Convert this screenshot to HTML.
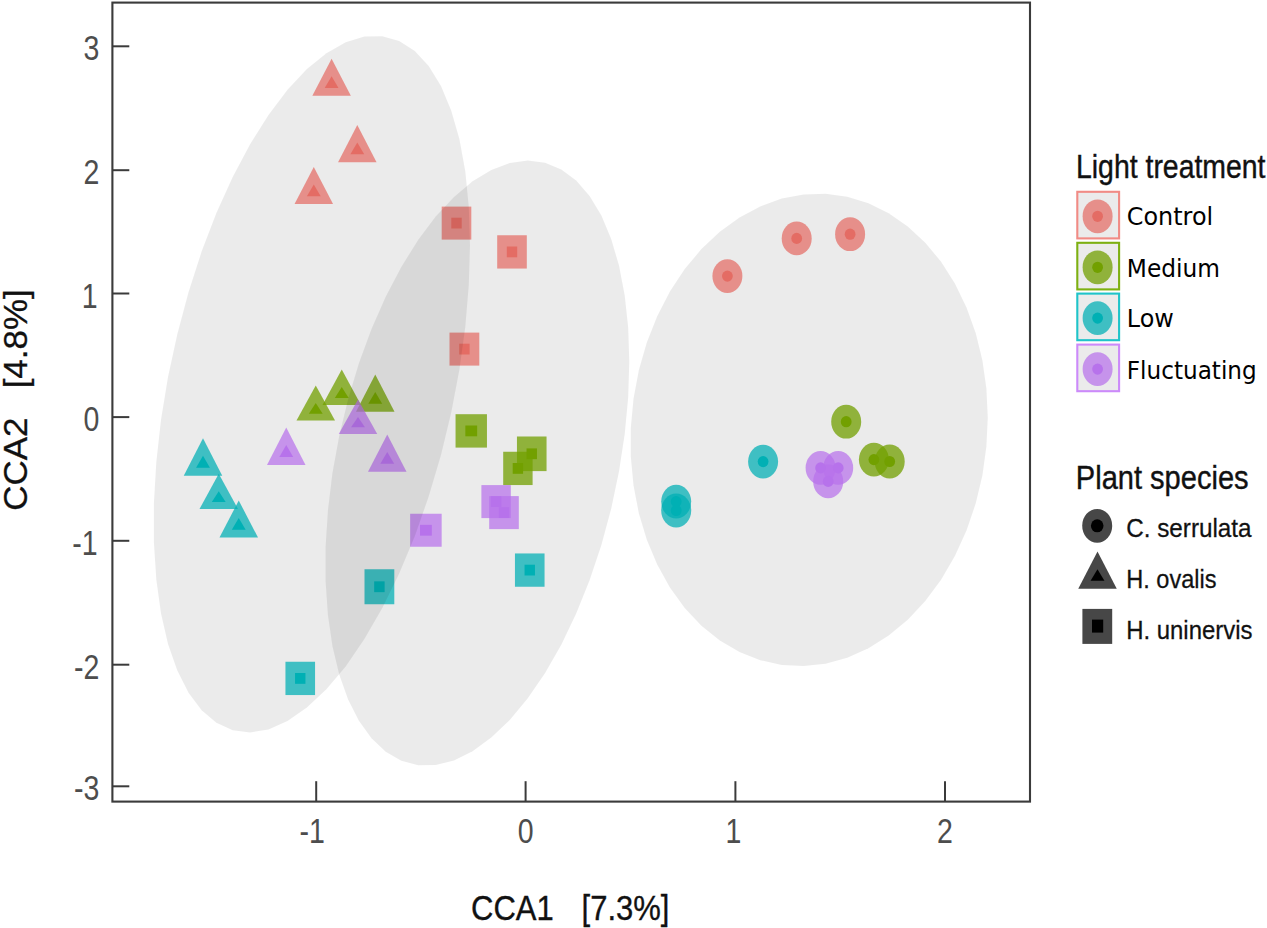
<!DOCTYPE html>
<html><head><meta charset="utf-8"><title>CCA ordination</title>
<style>html,body{margin:0;padding:0;background:#fff}svg{display:block}text{font-family:"Liberation Sans",sans-serif}.dj{font-family:"DejaVu Sans",sans-serif}</style></head><body>
<svg width="1267" height="928" viewBox="0 0 1267 928">
<rect width="1267" height="928" fill="#fff"/>
<g>
<ellipse cx="727.40" cy="276.10" rx="15.00" ry="16.90" fill="rgb(248,118,109)" fill-opacity="0.72"/>
<ellipse cx="796.70" cy="238.40" rx="15.00" ry="16.90" fill="rgb(248,118,109)" fill-opacity="0.72"/>
<ellipse cx="850.10" cy="234.20" rx="15.00" ry="16.90" fill="rgb(248,118,109)" fill-opacity="0.72"/>
<polygon points="331.60,58.70 350.85,95.80 312.35,95.80" fill="rgb(248,118,109)" fill-opacity="0.72"/>
<polygon points="357.30,124.90 376.55,162.20 338.05,162.20" fill="rgb(248,118,109)" fill-opacity="0.72"/>
<polygon points="313.80,166.90 333.05,204.10 294.55,204.10" fill="rgb(248,118,109)" fill-opacity="0.72"/>
<rect x="441.70" y="206.60" width="29.60" height="33.00" fill="rgb(248,118,109)" fill-opacity="0.72"/>
<rect x="497.20" y="235.25" width="29.60" height="33.30" fill="rgb(248,118,109)" fill-opacity="0.72"/>
<rect x="449.50" y="332.60" width="29.80" height="33.00" fill="rgb(248,118,109)" fill-opacity="0.72"/>
<ellipse cx="846.20" cy="421.70" rx="15.00" ry="16.90" fill="rgb(124,174,0)" fill-opacity="0.75"/>
<ellipse cx="873.90" cy="459.60" rx="15.00" ry="16.90" fill="rgb(124,174,0)" fill-opacity="0.75"/>
<ellipse cx="889.70" cy="461.50" rx="15.00" ry="16.90" fill="rgb(124,174,0)" fill-opacity="0.75"/>
<polygon points="315.75,385.50 335.00,420.60 296.50,420.60" fill="rgb(124,174,0)" fill-opacity="0.75"/>
<polygon points="341.75,369.50 361.00,405.10 322.50,405.10" fill="rgb(124,174,0)" fill-opacity="0.75"/>
<polygon points="375.25,374.50 394.50,411.75 356.00,411.75" fill="rgb(124,174,0)" fill-opacity="0.75"/>
<rect x="455.55" y="414.20" width="31.40" height="33.40" fill="rgb(124,174,0)" fill-opacity="0.75"/>
<rect x="516.95" y="436.50" width="29.60" height="34.60" fill="rgb(124,174,0)" fill-opacity="0.75"/>
<rect x="503.20" y="451.75" width="29.40" height="33.30" fill="rgb(124,174,0)" fill-opacity="0.75"/>
<ellipse cx="763.10" cy="461.60" rx="15.00" ry="16.90" fill="rgb(0,191,196)" fill-opacity="0.73"/>
<ellipse cx="676.20" cy="501.60" rx="15.00" ry="16.90" fill="rgb(0,191,196)" fill-opacity="0.73"/>
<ellipse cx="676.20" cy="510.50" rx="15.00" ry="16.90" fill="rgb(0,191,196)" fill-opacity="0.73"/>
<polygon points="203.00,438.25 222.25,475.75 183.75,475.75" fill="rgb(0,191,196)" fill-opacity="0.73"/>
<polygon points="218.75,473.75 238.00,509.10 199.50,509.10" fill="rgb(0,191,196)" fill-opacity="0.73"/>
<polygon points="238.75,500.50 258.00,537.50 219.50,537.50" fill="rgb(0,191,196)" fill-opacity="0.73"/>
<rect x="364.50" y="569.25" width="29.80" height="35.00" fill="rgb(0,191,196)" fill-opacity="0.73"/>
<rect x="514.95" y="553.45" width="29.60" height="33.30" fill="rgb(0,191,196)" fill-opacity="0.73"/>
<rect x="285.45" y="661.75" width="29.60" height="33.30" fill="rgb(0,191,196)" fill-opacity="0.73"/>
<ellipse cx="820.60" cy="467.90" rx="15.00" ry="16.90" fill="rgb(199,124,255)" fill-opacity="0.72"/>
<ellipse cx="838.20" cy="467.90" rx="15.00" ry="16.90" fill="rgb(199,124,255)" fill-opacity="0.72"/>
<ellipse cx="828.20" cy="481.40" rx="15.00" ry="16.90" fill="rgb(199,124,255)" fill-opacity="0.72"/>
<polygon points="286.25,427.50 305.50,465.00 267.00,465.00" fill="rgb(199,124,255)" fill-opacity="0.72"/>
<polygon points="358.00,399.50 377.25,433.90 338.75,433.90" fill="rgb(199,124,255)" fill-opacity="0.72"/>
<polygon points="387.25,434.50 406.50,471.75 368.00,471.75" fill="rgb(199,124,255)" fill-opacity="0.72"/>
<rect x="481.40" y="485.10" width="29.40" height="33.00" fill="rgb(199,124,255)" fill-opacity="0.72"/>
<rect x="489.20" y="496.10" width="29.60" height="33.00" fill="rgb(199,124,255)" fill-opacity="0.72"/>
<rect x="410.15" y="513.75" width="31.50" height="33.00" fill="rgb(199,124,255)" fill-opacity="0.72"/>
</g><g>
<ellipse cx="727.40" cy="276.10" rx="5.40" ry="5.62" fill="rgb(248,118,109)" fill-opacity="1.00"/>
<ellipse cx="796.70" cy="238.40" rx="5.40" ry="5.62" fill="rgb(248,118,109)" fill-opacity="1.00"/>
<ellipse cx="850.10" cy="234.20" rx="5.40" ry="5.62" fill="rgb(248,118,109)" fill-opacity="1.00"/>
<polygon points="331.60,76.27 338.53,87.91 324.67,87.91" fill="rgb(248,118,109)" fill-opacity="1.00"/>
<polygon points="357.30,142.47 364.23,154.21 350.37,154.21" fill="rgb(248,118,109)" fill-opacity="1.00"/>
<polygon points="313.80,184.47 320.73,196.16 306.87,196.16" fill="rgb(248,118,109)" fill-opacity="1.00"/>
<rect x="451.30" y="217.70" width="10.40" height="10.80" fill="rgb(248,118,109)" fill-opacity="1.00"/>
<rect x="506.80" y="246.50" width="10.40" height="10.80" fill="rgb(248,118,109)" fill-opacity="1.00"/>
<rect x="459.20" y="343.70" width="10.40" height="10.80" fill="rgb(248,118,109)" fill-opacity="1.00"/>
<ellipse cx="846.20" cy="421.70" rx="5.40" ry="5.62" fill="rgb(124,174,0)" fill-opacity="1.00"/>
<ellipse cx="873.90" cy="459.60" rx="5.40" ry="5.62" fill="rgb(124,174,0)" fill-opacity="1.00"/>
<ellipse cx="889.70" cy="461.50" rx="5.40" ry="5.62" fill="rgb(124,174,0)" fill-opacity="1.00"/>
<polygon points="315.75,403.07 322.68,413.71 308.82,413.71" fill="rgb(124,174,0)" fill-opacity="1.00"/>
<polygon points="341.75,387.07 348.68,397.96 334.82,397.96" fill="rgb(124,174,0)" fill-opacity="1.00"/>
<polygon points="375.25,392.07 382.18,403.79 368.32,403.79" fill="rgb(124,174,0)" fill-opacity="1.00"/>
<rect x="465.35" y="425.50" width="11.80" height="10.80" fill="rgb(124,174,0)" fill-opacity="1.00"/>
<rect x="526.55" y="448.40" width="10.40" height="10.80" fill="rgb(124,174,0)" fill-opacity="1.00"/>
<rect x="512.70" y="463.00" width="10.40" height="10.80" fill="rgb(124,174,0)" fill-opacity="1.00"/>
<ellipse cx="763.10" cy="461.60" rx="5.40" ry="5.62" fill="rgb(0,191,196)" fill-opacity="1.00"/>
<ellipse cx="676.20" cy="501.60" rx="5.40" ry="5.62" fill="rgb(0,191,196)" fill-opacity="1.00"/>
<ellipse cx="676.20" cy="510.50" rx="5.40" ry="5.62" fill="rgb(0,191,196)" fill-opacity="1.00"/>
<polygon points="203.00,455.82 209.93,467.66 196.07,467.66" fill="rgb(0,191,196)" fill-opacity="1.00"/>
<polygon points="218.75,491.32 225.68,502.09 211.82,502.09" fill="rgb(0,191,196)" fill-opacity="1.00"/>
<polygon points="238.75,518.07 245.68,529.66 231.82,529.66" fill="rgb(0,191,196)" fill-opacity="1.00"/>
<rect x="374.20" y="581.35" width="10.40" height="10.80" fill="rgb(0,191,196)" fill-opacity="1.00"/>
<rect x="524.55" y="564.70" width="10.40" height="10.80" fill="rgb(0,191,196)" fill-opacity="1.00"/>
<rect x="295.05" y="673.00" width="10.40" height="10.80" fill="rgb(0,191,196)" fill-opacity="1.00"/>
<ellipse cx="820.60" cy="467.90" rx="5.40" ry="5.62" fill="rgb(199,124,255)" fill-opacity="1.00"/>
<ellipse cx="838.20" cy="467.90" rx="5.40" ry="5.62" fill="rgb(199,124,255)" fill-opacity="1.00"/>
<ellipse cx="828.20" cy="481.40" rx="5.40" ry="5.62" fill="rgb(199,124,255)" fill-opacity="1.00"/>
<polygon points="286.25,445.07 293.18,456.91 279.32,456.91" fill="rgb(199,124,255)" fill-opacity="1.00"/>
<polygon points="358.00,417.07 364.93,427.36 351.07,427.36" fill="rgb(199,124,255)" fill-opacity="1.00"/>
<polygon points="387.25,452.07 394.18,463.79 380.32,463.79" fill="rgb(199,124,255)" fill-opacity="1.00"/>
<rect x="490.90" y="496.20" width="10.40" height="10.80" fill="rgb(199,124,255)" fill-opacity="1.00"/>
<rect x="498.80" y="507.20" width="10.40" height="10.80" fill="rgb(199,124,255)" fill-opacity="1.00"/>
<rect x="420.00" y="524.85" width="11.80" height="10.80" fill="rgb(199,124,255)" fill-opacity="1.00"/>
</g>
<g fill="#000" fill-opacity="0.08">
<polygon points="470.0,245.0 468.8,285.3 465.3,327.1 459.4,369.8 451.2,412.7 441.0,455.1 428.7,496.5 414.8,536.2 399.2,573.5 382.3,608.0 364.4,639.1 345.7,666.4 326.4,689.3 306.9,707.6 287.5,721.1 268.5,729.4 250.1,732.5 232.7,730.3 216.4,722.8 201.6,710.2 188.5,692.7 177.3,670.5 168.0,644.0 161.0,613.5 156.3,579.5 153.9,542.6 153.9,503.3 156.3,462.1 161.0,419.8 168.0,377.0 177.3,334.2 188.5,292.2 201.6,251.6 216.4,213.0 232.7,177.0 250.1,144.2 268.5,114.9 287.5,89.8 306.9,69.1 326.4,53.2 345.7,42.3 364.4,36.6 382.3,36.2 399.2,41.0 414.8,51.0 428.7,66.1 441.0,86.0 451.2,110.4 459.4,139.0 465.3,171.3 468.8,206.8"/>
<polygon points="629.3,361.7 628.2,397.5 624.7,434.3 619.0,471.6 611.2,508.7 601.4,545.1 589.6,580.2 576.2,613.6 561.3,644.8 545.1,673.1 527.8,698.3 509.8,719.9 491.3,737.6 472.6,751.2 454.0,760.4 435.7,765.1 418.1,765.2 401.3,760.7 385.7,751.7 371.5,738.3 358.9,720.8 348.1,699.4 339.2,674.4 332.4,646.1 327.9,615.1 325.6,581.8 325.6,546.7 327.9,510.4 332.4,473.3 339.2,436.0 348.1,399.2 358.9,363.3 371.5,329.0 385.7,296.7 401.3,266.9 418.1,240.1 435.7,216.6 454.0,196.9 472.6,181.3 491.3,169.9 509.8,162.9 527.8,160.5 545.1,162.7 561.3,169.4 576.2,180.6 589.6,196.1 601.4,215.6 611.2,238.9 619.0,265.6 624.7,295.2 628.2,327.5"/>
<polygon points="987.8,417.5 986.4,446.6 982.4,475.4 975.7,503.6 966.5,530.6 954.9,556.1 941.1,579.7 925.3,601.0 907.8,619.7 888.7,635.6 868.5,648.3 847.3,657.7 825.6,663.7 803.6,666.1 781.7,665.0 760.2,660.2 739.5,652.0 719.8,640.4 701.4,625.7 684.7,607.9 669.9,587.5 657.2,564.6 646.8,539.8 638.8,513.2 633.5,485.4 630.8,456.8 630.8,427.7 633.5,398.7 638.8,370.2 646.8,342.5 657.2,316.2 669.9,291.6 684.7,269.1 701.4,249.1 719.8,231.8 739.5,217.4 760.2,206.4 781.7,198.6 803.6,194.4 825.6,193.8 847.3,196.8 868.5,203.2 888.7,213.2 907.8,226.4 925.3,242.7 941.1,261.8 954.9,283.5 966.5,307.4 975.7,333.1 982.4,360.3 986.4,388.6"/>
</g>
<rect x="112.4" y="2.6" width="917.6" height="799.0" fill="none" stroke="#3b3b3b" stroke-width="2.1"/>
<g stroke="#3b3b3b" stroke-width="2">
<line x1="112.4" y1="46.3" x2="129.3" y2="46.3"/>
<line x1="112.4" y1="170.2" x2="129.3" y2="170.2"/>
<line x1="112.4" y1="293.5" x2="129.3" y2="293.5"/>
<line x1="112.4" y1="417.1" x2="129.3" y2="417.1"/>
<line x1="112.4" y1="540.8" x2="129.3" y2="540.8"/>
<line x1="112.4" y1="664.7" x2="129.3" y2="664.7"/>
<line x1="112.4" y1="786.3" x2="129.3" y2="786.3"/>
<line x1="316.2" y1="781.2" x2="316.2" y2="801.6"/>
<line x1="525.6" y1="781.2" x2="525.6" y2="801.6"/>
<line x1="735.4" y1="781.2" x2="735.4" y2="801.6"/>
<line x1="945.0" y1="781.2" x2="945.0" y2="801.6"/>
</g>
<text transform="translate(99.3,60.3) scale(1.000,1.200)" font-size="28.5" text-anchor="end" fill="#4d4d4d">3</text>
<text transform="translate(99.3,184.2) scale(1.000,1.200)" font-size="28.5" text-anchor="end" fill="#4d4d4d">2</text>
<text transform="translate(97.6,307.5) scale(1.000,1.200)" font-size="28.5" text-anchor="end" fill="#4d4d4d">1</text>
<text transform="translate(99.3,431.1) scale(1.000,1.200)" font-size="28.5" text-anchor="end" fill="#4d4d4d">0</text>
<text transform="translate(97.6,554.8) scale(1.000,1.200)" font-size="28.5" text-anchor="end" fill="#4d4d4d">-1</text>
<text transform="translate(99.3,678.7) scale(1.000,1.200)" font-size="28.5" text-anchor="end" fill="#4d4d4d">-2</text>
<text transform="translate(99.3,800.3) scale(1.000,1.200)" font-size="28.5" text-anchor="end" fill="#4d4d4d">-3</text>
<text transform="translate(312.2,843.2) scale(1.000,1.200)" font-size="28.5" text-anchor="middle" fill="#4d4d4d">-1</text>
<text transform="translate(525.6,843.2) scale(1.000,1.200)" font-size="28.5" text-anchor="middle" fill="#4d4d4d">0</text>
<text transform="translate(733.4,843.2) scale(1.000,1.200)" font-size="28.5" text-anchor="middle" fill="#4d4d4d">1</text>
<text transform="translate(945.0,843.2) scale(1.000,1.200)" font-size="28.5" text-anchor="middle" fill="#4d4d4d">2</text>
<text transform="translate(471.0,919.6) scale(1.000,1.147)" font-size="31.0" text-anchor="start" fill="#111" stroke="#111" stroke-width="0.30">CCA1</text>
<text transform="translate(581.6,919.6) scale(1.000,1.147)" font-size="31.0" text-anchor="start" fill="#111" stroke="#111" stroke-width="0.30">[7.3%]</text>
<text transform="translate(26.7,400.0) rotate(-90) scale(1.000,0.970)" font-size="35.0" text-anchor="middle" fill="#111" stroke="#111" stroke-width="0.30">CCA2&#160;&#160;&#160;[4.8%]</text>
<text transform="translate(1076.0,177.6) scale(1.000,1.150)" font-size="28.6" text-anchor="start" fill="#111" stroke="#111" stroke-width="0.35" textLength="189.5" lengthAdjust="spacingAndGlyphs">Light treatment</text>
<ellipse cx="1097.60" cy="216.30" rx="15.00" ry="16.90" fill="rgb(248,118,109)" fill-opacity="0.72"/>
<ellipse cx="1097.60" cy="216.30" rx="5.40" ry="5.62" fill="rgb(248,118,109)" fill-opacity="1.00"/>
<rect x="1077.3" y="191.8" width="41.8" height="46.6" fill="#000" fill-opacity="0.08" stroke="#F18B85" stroke-width="2.1"/>
<text transform="translate(1126.8,225.4) scale(1.000,1.055)" font-size="23.9" text-anchor="start" fill="#000" class="dj">Control</text>
<ellipse cx="1097.60" cy="267.30" rx="15.00" ry="16.90" fill="rgb(124,174,0)" fill-opacity="0.75"/>
<ellipse cx="1097.60" cy="267.30" rx="5.40" ry="5.62" fill="rgb(124,174,0)" fill-opacity="1.00"/>
<rect x="1077.3" y="242.8" width="41.8" height="46.6" fill="#000" fill-opacity="0.08" stroke="#7DB012" stroke-width="2.1"/>
<text transform="translate(1126.8,276.9) scale(1.000,1.055)" font-size="23.9" text-anchor="start" fill="#000" class="dj" textLength="93.1" lengthAdjust="spacingAndGlyphs">Medium</text>
<ellipse cx="1097.60" cy="318.10" rx="15.00" ry="16.90" fill="rgb(0,191,196)" fill-opacity="0.73"/>
<ellipse cx="1097.60" cy="318.10" rx="5.40" ry="5.62" fill="rgb(0,191,196)" fill-opacity="1.00"/>
<rect x="1077.3" y="293.6" width="41.8" height="46.6" fill="#000" fill-opacity="0.08" stroke="#1FC4C9" stroke-width="2.1"/>
<text transform="translate(1126.8,326.7) scale(1.000,1.055)" font-size="23.9" text-anchor="start" fill="#000" class="dj">Low</text>
<ellipse cx="1097.60" cy="369.10" rx="15.00" ry="16.90" fill="rgb(199,124,255)" fill-opacity="0.72"/>
<ellipse cx="1097.60" cy="369.10" rx="5.40" ry="5.62" fill="rgb(199,124,255)" fill-opacity="1.00"/>
<rect x="1077.3" y="344.6" width="41.8" height="46.6" fill="#000" fill-opacity="0.08" stroke="#CC8AFA" stroke-width="2.1"/>
<text transform="translate(1126.8,379.2) scale(1.000,1.055)" font-size="23.9" text-anchor="start" fill="#000" class="dj" textLength="129.9" lengthAdjust="spacingAndGlyphs">Fluctuating</text>
<text transform="translate(1075.8,489.3) scale(1.000,1.130)" font-size="28.6" text-anchor="start" fill="#111" stroke="#111" stroke-width="0.35" textLength="172.8" lengthAdjust="spacingAndGlyphs">Plant species</text>
<ellipse cx="1097.20" cy="525.80" rx="15.00" ry="16.90" fill="rgb(0,0,0)" fill-opacity="0.72"/>
<ellipse cx="1097.20" cy="525.80" rx="6.30" ry="6.55" fill="rgb(0,0,0)" fill-opacity="1.00"/>
<polygon points="1097.50,551.60 1116.75,588.80 1078.25,588.80" fill="rgb(0,0,0)" fill-opacity="0.72"/>
<polygon points="1097.50,569.17 1104.43,580.86 1090.57,580.86" fill="rgb(0,0,0)" fill-opacity="1.00"/>
<rect x="1082.4" y="608.9" width="29.8" height="35" fill="#000" fill-opacity="0.72"/>
<rect x="1092.0" y="619.6" width="11.2" height="13" fill="#000"/>
<text transform="translate(1126.2,537.2) scale(1.000,1.050)" font-size="24.2" text-anchor="start" fill="#111" stroke="#111" stroke-width="0.25" textLength="125.4" lengthAdjust="spacingAndGlyphs">C. serrulata</text>
<text transform="translate(1126.2,588.2) scale(1.000,1.050)" font-size="24.2" text-anchor="start" fill="#111" stroke="#111" stroke-width="0.25" textLength="90.3" lengthAdjust="spacingAndGlyphs">H. ovalis</text>
<text transform="translate(1126.2,639.0) scale(1.000,1.050)" font-size="24.2" text-anchor="start" fill="#111" stroke="#111" stroke-width="0.25" textLength="126.3" lengthAdjust="spacingAndGlyphs">H. uninervis</text>
</svg></body></html>
